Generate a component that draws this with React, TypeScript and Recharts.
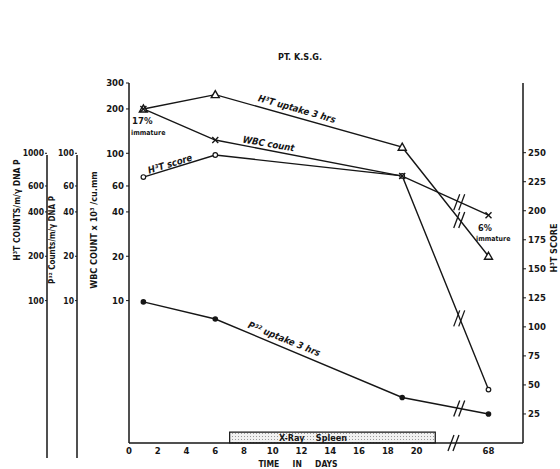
import React from "react";
import {
  LineChart,
  Line,
  XAxis,
  YAxis,
  ReferenceArea,
  ReferenceDot,
} from "recharts";

// time points (days) and the four measured series
const days = [1, 6, 19, 68];
const h3tUptake = [2000, 2500, 1100, 200]; // H3T counts/m/γ DNA P, 3 hrs
const wbcCount = [200, 123, 70, 38]; // x 10^3 / cu.mm
const h3tScore = [229, 248, 230, 46];
const p32Uptake = [9.8, 7.5, 2.2, 1.7]; // P32 counts/m/γ DNA P, 3 hrs

const dayTicks = [0, 2, 4, 6, 8, 10, 12, 14, 16, 18, 20, 68];
const wbcTicks = [10, 20, 40, 60, 100, 200, 300];
const p32Ticks = [10, 20, 40, 60, 100];
const h3tTicks = [100, 200, 400, 600, 1000];
const scoreTicks = [25, 50, 75, 100, 125, 150, 175, 200, 225, 250];

// x-ray to the spleen, days
const xraySpleen = [7, 21.3];

// the time axis is broken after day 21: later days sit in one slot
const LATE_SLOT = 25;
const BREAK_AT = 23;
const pos = (d: number) => (d > 21 ? LATE_SLOT : d);

const data = days.map((d, i) => ({
  pos: pos(d),
  h3t: h3tUptake[i],
  wbc: wbcCount[i],
  score: h3tScore[i],
  p32: p32Uptake[i],
}));

const frac = (BREAK_AT - pos(days[2])) / (pos(days[3]) - pos(days[2]));
const logMid = (s: number[]) =>
  Math.exp(Math.log(s[2]) + frac * (Math.log(s[3]) - Math.log(s[2])));
const linMid = (s: number[]) => s[2] + frac * (s[3] - s[2]);

// axis ids: left axes get stacked from the plot outward in id order
const WBC = "a-wbc";
const P32 = "b-p32";
const H3T = "c-h3t";
const SCORE = "d-score";

const INK = "#161616";
const FONT = "'DejaVu Sans Condensed', 'DejaVu Sans', sans-serif";
const tickStyle = { fill: INK, fontSize: 9.5, fontWeight: 700, fontFamily: FONT };
const smallTick = { ...tickStyle, fontSize: 8.5 };

const Triangle = (p: any) => (
  <path
    d={`M${p.cx},${p.cy - 4} L${p.cx + 4},${p.cy + 3} L${p.cx - 4},${p.cy + 3} Z`}
    fill="#fff"
    stroke={INK}
    strokeWidth={1.4}
  />
);
const Cross = (p: any) => (
  <g stroke={INK} strokeWidth={1.4}>
    <line x1={p.cx - 3} y1={p.cy - 3} x2={p.cx + 3} y2={p.cy + 3} />
    <line x1={p.cx - 3} y1={p.cy + 3} x2={p.cx + 3} y2={p.cy - 3} />
  </g>
);
const OpenDot = (p: any) => (
  <circle cx={p.cx} cy={p.cy} r={2.3} fill="#fff" stroke={INK} strokeWidth={1.2} />
);
const FilledDot = (p: any) => <circle cx={p.cx} cy={p.cy} r={2.8} fill={INK} />;

const BreakMark = (p: any) => (
  <g stroke={INK} strokeWidth={1.3}>
    <line x1={p.cx - 6} y1={p.cy + 8} x2={p.cx} y2={p.cy - 8} />
    <line x1={p.cx - 1} y1={p.cy + 8} x2={p.cx + 5} y2={p.cy - 8} />
  </g>
);

const vText = (x: number, y: number, size: number, s: string) => (
  <text
    transform={`translate(${x},${y}) rotate(-90)`}
    textAnchor="middle"
    fontSize={size}
    fontWeight={700}
    fontFamily={FONT}
    fill={INK}
  >
    {s}
  </text>
);

const slanted = (x: number, y: number, angle: number, s: string) => (
  <text
    transform={`translate(${x},${y}) rotate(${angle})`}
    textAnchor="middle"
    fontSize={9.5}
    fontWeight={700}
    fontStyle="italic"
    fontFamily={FONT}
    fill={INK}
  >
    {s}
  </text>
);

export default function App() {
  return (
    <div style={{ position: "absolute", left: 0, top: 0, width: 560, height: 469, background: "#fff" }}>
      <LineChart
        width={560}
        height={469}
        data={data}
        margin={{ top: 83, right: 0, bottom: 6, left: 0 }}
      >
        <XAxis
          type="number"
          dataKey="pos"
          domain={[0, 27.4]}
          allowDataOverflow
          ticks={dayTicks.map(pos)}
          tickFormatter={(v: number) => String(v === LATE_SLOT ? 68 : v)}
          tickLine={false}
          tickSize={2}
          height={20}
          tick={tickStyle}
          axisLine={{ stroke: INK, strokeWidth: 1.5 }}
        />
        <YAxis
          yAxisId={WBC}
          type="number"
          scale="log"
          domain={[1.08, 300]}
          allowDataOverflow
          ticks={wbcTicks}
          width={52}
          tickSize={3}
          tickMargin={2}
          tick={tickStyle}
          axisLine={{ stroke: INK, strokeWidth: 1.5 }}
          tickLine={{ stroke: INK }}
        />
        <YAxis
          yAxisId={P32}
          type="number"
          scale="log"
          domain={[1.08, 300]}
          allowDataOverflow
          ticks={p32Ticks}
          width={30}
          tickSize={2}
          tickMargin={1}
          tick={smallTick}
          axisLine={false}
          tickLine={{ stroke: INK }}
        />
        <YAxis
          yAxisId={H3T}
          type="number"
          scale="log"
          domain={[10.8, 3000]}
          allowDataOverflow
          ticks={h3tTicks}
          width={47}
          tickSize={2}
          tickMargin={1}
          tick={smallTick}
          axisLine={false}
          tickLine={{ stroke: INK }}
        />
        <YAxis
          yAxisId={SCORE}
          orientation="right"
          type="number"
          domain={[0, 310]}
          allowDataOverflow
          ticks={scoreTicks}
          width={37}
          tickSize={3}
          tickMargin={2}
          tick={{ ...tickStyle, textAnchor: "start" }}
          axisLine={{ stroke: INK, strokeWidth: 1.5 }}
          tickLine={{ stroke: INK }}
        />

        <ReferenceArea
          yAxisId={WBC}
          x1={xraySpleen[0]}
          x2={xraySpleen[1]}
          y1={1.08}
          y2={1.28}
          fill="url(#stipple)"
          fillOpacity={1}
          stroke={INK}
          strokeWidth={1.2}
          ifOverflow="visible"
        />

        <Line yAxisId={P32} dataKey="p32" stroke={INK} strokeWidth={1.4} dot={FilledDot} isAnimationActive={false} />
        <Line yAxisId={SCORE} dataKey="score" stroke={INK} strokeWidth={1.4} dot={OpenDot} isAnimationActive={false} />
        <Line yAxisId={H3T} dataKey="h3t" stroke={INK} strokeWidth={1.4} dot={Triangle} isAnimationActive={false} />
        <Line yAxisId={WBC} dataKey="wbc" stroke={INK} strokeWidth={1.4} dot={Cross} isAnimationActive={false} />

        <ReferenceDot yAxisId={WBC} x={BREAK_AT} y={logMid(wbcCount)} shape={BreakMark} ifOverflow="visible" />
        <ReferenceDot yAxisId={H3T} x={BREAK_AT} y={logMid(h3tUptake)} shape={BreakMark} ifOverflow="visible" />
        <ReferenceDot yAxisId={SCORE} x={BREAK_AT} y={linMid(h3tScore)} shape={BreakMark} ifOverflow="visible" />
        <ReferenceDot yAxisId={P32} x={BREAK_AT} y={logMid(p32Uptake)} shape={BreakMark} ifOverflow="visible" />
        <ReferenceDot yAxisId={WBC} x={BREAK_AT - 0.4} y={1.08} shape={BreakMark} ifOverflow="visible" />
      </LineChart>

      <svg
        width={560}
        height={469}
        style={{ position: "absolute", left: 0, top: 0, pointerEvents: "none" }}
      >
        <defs>
          <pattern id="stipple" width="3" height="3" patternUnits="userSpaceOnUse">
            <rect width="3" height="3" fill="#f1f1f1" />
            <rect x="1" y="1" width="1" height="1" fill="#9a9a9a" />
          </pattern>
        </defs>
        <text x={300} y={60} textAnchor="middle" fontSize={9} fontWeight={700} fontFamily={FONT} fill={INK}>
          PT. K.S.G.
        </text>

        {/* extra count scales on the left */}
        <line x1={47} y1={155} x2={47} y2={458} stroke={INK} strokeWidth={1.5} />
        <line x1={77} y1={155} x2={77} y2={458} stroke={INK} strokeWidth={1.5} />
        {vText(20, 210, 8.5, "H³T COUNTS/m/γ DNA P")}
        {vText(55, 240, 8, "P³² Counts/m/γ DNA P")}
        {vText(97, 230, 9, "WBC COUNT x 10³ /cu.mm")}
        {vText(557, 248, 9, "H³T SCORE")}

        {slanted(296, 112, 16, "H³T uptake 3 hrs")}
        {slanted(268, 147, 10, "WBC count")}
        {slanted(171, 167, -17, "H³T score")}
        {slanted(283, 342, 22, "P³² uptake 3 hrs")}

        <text x={132} y={124} fontSize={9.5} fontWeight={700} fontFamily={FONT} fill={INK}>17%</text>
        <text x={131} y={135} fontSize={7} fontWeight={700} fontFamily={FONT} fill={INK}>immature</text>
        <text x={478} y={231} fontSize={9} fontWeight={700} fontFamily={FONT} fill={INK}>6%</text>
        <text x={476} y={241} fontSize={7} fontWeight={700} fontFamily={FONT} fill={INK}>immature</text>

        <text x={313} y={441} textAnchor="middle" fontSize={9} fontWeight={700} fontFamily={FONT} fill={INK} xmlSpace="preserve">
          X-Ray    Spleen
        </text>
        <text x={298} y={467} textAnchor="middle" fontSize={8.5} fontWeight={700} fontFamily={FONT} fill={INK} xmlSpace="preserve">
          TIME     IN     DAYS
        </text>
      </svg>
    </div>
  );
}
